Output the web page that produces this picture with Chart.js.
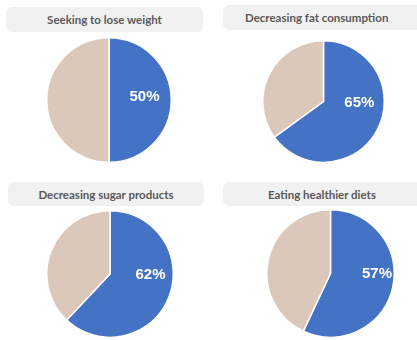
<!DOCTYPE html>
<html>
<head>
<meta charset="utf-8">
<script src="https://cdn.jsdelivr.net/npm/chart.js@4"></script>
<style>
  body{ margin:0; background:#fff; width:417px; height:340px; overflow:hidden; position:relative; font-family:Lato, sans-serif; }
  .title{ position:absolute; background:#f1f1f1; border-radius:6px; color:#595959; font-weight:700; font-size:11.5px; display:flex; align-items:center; justify-content:center; box-sizing:border-box; }
  canvas{ position:absolute; }
</style>
</head>
<body>
<div class="title" id="t1" style="left:6px;top:7px;width:197px;height:25px"></div>
<div class="title" id="t2" style="left:223px;top:5px;width:200px;height:25px;justify-content:flex-start;padding-left:22px"></div>
<div class="title" id="t3" style="left:8px;top:182px;width:196px;height:24px"></div>
<div class="title" id="t4" style="left:223px;top:182px;width:200px;height:24px;justify-content:flex-start;padding-left:45px"></div>

<canvas id="pie1" width="126" height="126" style="left:46px;top:37px"></canvas>
<canvas id="pie2" width="123" height="123" style="left:262px;top:40px"></canvas>
<canvas id="pie3" width="128" height="128" style="left:46px;top:210px"></canvas>
<canvas id="pie4" width="129" height="129" style="left:266px;top:209px"></canvas>

<script>
// DATA
const titles = ["Seeking to lose weight", "Decreasing fat consumption", "Decreasing sugar products", "Eating healthier diets"];
const categories = ["Yes", "No"];
const yesShare = [50, 65, 62, 57];
const noShare = [50, 35, 38, 43];

// label offsets (fraction of radius, right of centre)
const labelShift = [0.57, 0.59, 0.64, 0.73];
const dy = [-3, 1.5, 1, 0];

const pctLabel = {
  id: "pctLabel",
  afterDatasetsDraw(chart, args, opts){
    const arc = chart.getDatasetMeta(0).data[0];
    const ctx = chart.ctx;
    ctx.save();
    ctx.fillStyle = "#fff";
    ctx.font = "bold 15px 'Liberation Sans', Arial, sans-serif";
    ctx.textAlign = "center";
    ctx.textBaseline = "middle";
    ctx.fillText(chart.data.datasets[0].data[0] + "%", arc.x + arc.outerRadius * opts.shift, arc.y + opts.dy);
    ctx.restore();
  }
};

// PIES
yesShare.forEach((v, i) => {
  document.getElementById("t" + (i + 1)).textContent = titles[i];
  new Chart(document.getElementById("pie" + (i + 1)), {
    type: "pie",
    data: {
      labels: categories,
      datasets: [{
        label: titles[i],
        data: [v, noShare[i]],
        backgroundColor: ["#4472c4", "#dbc8ba"],
        borderColor: "#fff",
        borderWidth: 1.5
      }]
    },
    options: {
      responsive: false,
      animation: false,
      layout: { padding: 0 },
      plugins: {
        legend: { display: false },
        tooltip: { enabled: false },
        pctLabel: { shift: labelShift[i], dy: dy[i] }
      }
    },
    plugins: [pctLabel]
  });
});
</script>
</body>
</html>
